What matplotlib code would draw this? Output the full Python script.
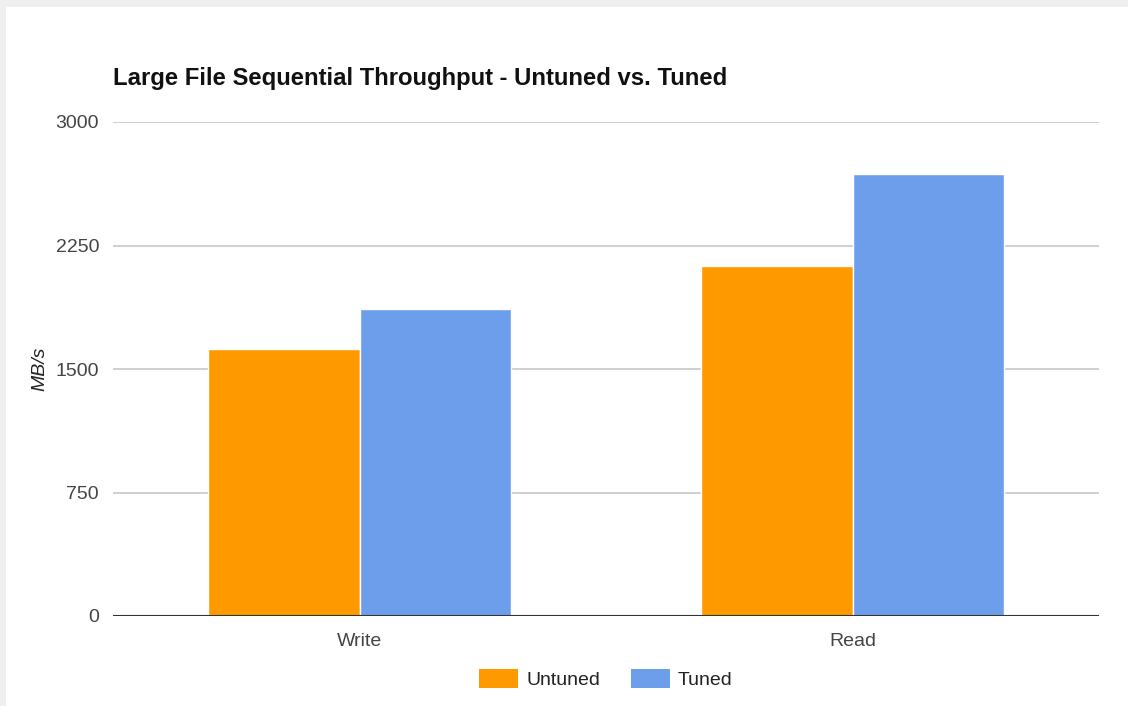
import numpy as np
import matplotlib.pyplot as plt
from matplotlib.patches import Rectangle, Patch

plt.rcParams['font.family'] = ['Liberation Sans', 'DejaVu Sans']

categories = ['Write', 'Read']
untuned = [1620, 2125]
tuned = [1865, 2685]
series_names = ['Untuned', 'Tuned']
yticks = [0, 750, 1500, 2250, 3000]

orange = '#ff9900'
blue = '#6d9eeb'

fig = plt.figure(figsize=(11.28, 7.06), dpi=100)
fig.patch.set_facecolor('#efefef')
# white card over the gray page
fig.patches.append(Rectangle((6 / 1128, 0), 1 - 6 / 1128, 1 - 7 / 706,
                             transform=fig.transFigure, facecolor='white',
                             edgecolor='none', zorder=-5))

ax = fig.add_axes([113 / 1128, 1 - 616 / 706, 986 / 1128, 494 / 706])
ax.set_facecolor('none')

x = np.arange(len(categories))
w = 0.308
ax.bar(x - w / 2, untuned, width=w, color=orange, edgecolor='white',
       linewidth=1, zorder=3, label=series_names[0])
ax.bar(x + w / 2, tuned, width=w, color=blue, edgecolor='white',
       linewidth=1, zorder=3, label=series_names[1])

ax.set_xlim(-0.5, 1.5)
ax.set_ylim(0, 3000)
ax.set_yticks(yticks)
ax.set_yticklabels([str(v) for v in yticks])
ax.set_xticks(x)
ax.set_xticklabels(categories)
ax.grid(axis='y', color='#cccccc', linewidth=1.3, zorder=0)
ax.axhline(0, color='#333333', linewidth=1.5, zorder=4)
for s in ax.spines.values():
    s.set_visible(False)
ax.tick_params(axis='both', length=0, labelsize=14, labelcolor='#444444')
ax.tick_params(axis='y', pad=10)
ax.tick_params(axis='x', pad=12)

ax.set_ylabel('MB/s', fontsize=14, style='italic', color='#222222', labelpad=5)
fig.text(113 / 1128, 1 - 78 / 706, 'Large File Sequential Throughput - Untuned vs. Tuned',
         fontsize=17.2, fontweight='bold', color='#111111', va='center', ha='left')

handles = [Patch(facecolor=orange), Patch(facecolor=blue)]
fig.legend(handles, series_names, loc='center', bbox_to_anchor=(606 / 1128, 1 - 679 / 706),
           ncol=2, frameon=False, fontsize=14, handlelength=2.0, handleheight=1.1,
           columnspacing=1.6, handletextpad=0.4, labelcolor='#222222')

fig.savefig('out.png', dpi=100, facecolor=fig.get_facecolor())
